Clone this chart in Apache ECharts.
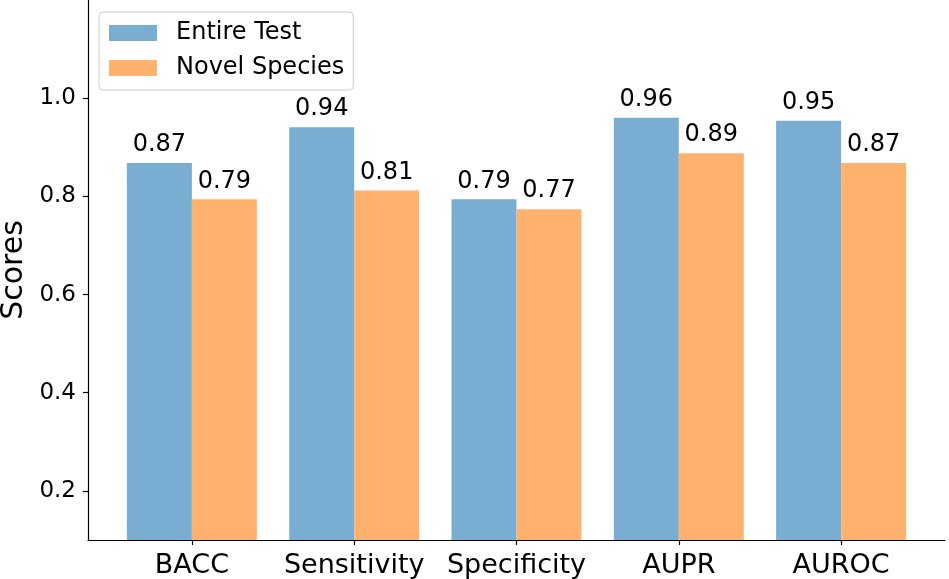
<!DOCTYPE html>
<html>
<head>
<meta charset="utf-8">
<script src="https://cdn.jsdelivr.net/npm/echarts@6/dist/echarts.min.js"></script>
<style>html,body{margin:0;padding:0;background:#fff}#c{width:949px;height:579px}</style>
</head>
<body>
<div id="c"></div>
<script>
const categories = ['BACC', 'Sensitivity', 'Specificity', 'AUPR', 'AUROC'];
const seriesNames = ['Entire Test', 'Novel Species'];
const entireTest = [0.868, 0.941, 0.794, 0.960, 0.954];
const novelSpecies = [0.794, 0.812, 0.774, 0.888, 0.868];
const yTicks = [0.2, 0.4, 0.6, 0.8, 1.0];

const FONT = 'DejaVu Sans';
const catIdx = categories.map((_, i) => i);
const chart = echarts.init(document.getElementById('c'), null, {renderer: 'canvas'});
const labelCfg = {
  show: true, position: 'top', distance: 6,
  fontFamily: FONT, fontSize: 24, color: '#000',
  formatter: p => p.value[1].toFixed(2)
};
chart.setOption({
  animation: false,
  backgroundColor: '#fff',
  grid: {left: 88, right: 4, top: 0, bottom: 39, containLabel: false, outerBoundsMode: 'none'},
  legend: {
    orient: 'vertical', left: 99, top: 12,
    padding: [9, 9, 10, 10],
    itemWidth: 48, itemHeight: 16, itemGap: 11,
    borderColor: '#cccccc', borderWidth: 1, borderRadius: 4,
    backgroundColor: 'rgba(255,255,255,0.8)',
    icon: 'rect',
    textStyle: {fontFamily: FONT, fontSize: 24, color: '#000', padding: [0, 0, 0, 14]},
    data: seriesNames
  },
  xAxis: {
    type: 'value', min: -0.64, max: 4.64,
    splitLine: {show: false},
    axisLine: {show: true, onZero: false, lineStyle: {color: '#000', width: 1.2}},
    axisTick: {show: true, length: 5, customValues: catIdx, lineStyle: {color: '#000', width: 1.2}},
    axisLabel: {customValues: catIdx, margin: 12, fontFamily: FONT, fontSize: 27, color: '#000',
      formatter: v => categories[Math.round(v)]}
  },
  yAxis: {
    type: 'value', min: 0.1, max: 1.2,
    name: 'Scores', nameLocation: 'middle', nameGap: 59, nameMoveOverlap: false,
    nameTextStyle: {fontFamily: FONT, fontSize: 30, color: '#000'},
    splitLine: {show: false},
    axisLine: {show: true, onZero: false, lineStyle: {color: '#000', width: 1.2}},
    axisTick: {show: true, length: 5, customValues: yTicks, lineStyle: {color: '#000', width: 1.2}},
    axisLabel: {customValues: yTicks, margin: 12, fontFamily: FONT, fontSize: 23, color: '#000',
      formatter: v => v.toFixed(1)}
  },
  series: [
    {name: seriesNames[0], type: 'bar', barWidth: 65, barGap: '0%',
     itemStyle: {color: '#79add2'},
     data: entireTest.map((v, i) => [i, v]), label: labelCfg},
    {name: seriesNames[1], type: 'bar', barWidth: 65, barGap: '0%',
     itemStyle: {color: '#ffb26e'},
     data: novelSpecies.map((v, i) => [i, v]), label: labelCfg}
  ]
});
</script>
</body>
</html>
